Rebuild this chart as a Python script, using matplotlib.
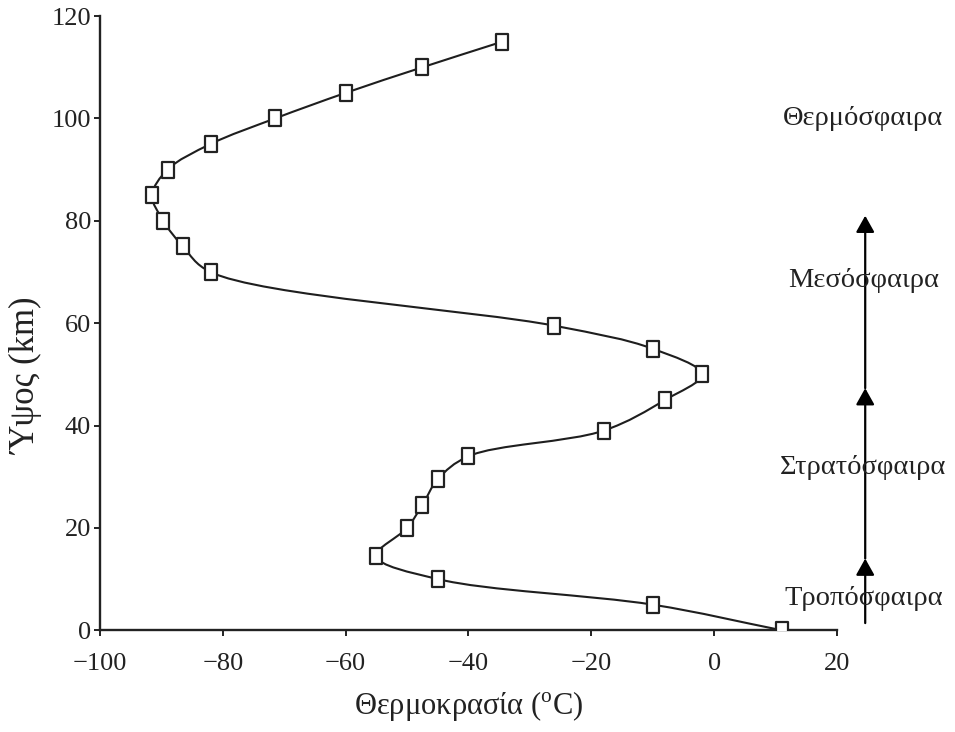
import numpy as np
import matplotlib
matplotlib.use('Agg')
import matplotlib.pyplot as plt
from matplotlib.path import Path
from matplotlib.patches import PathPatch

plt.rcParams['font.family'] = ['Liberation Serif', 'DejaVu Serif']
plt.rcParams['mathtext.fontset'] = 'custom'
plt.rcParams['mathtext.rm'] = 'Liberation Serif'

# temperature (C) vs altitude (km)
temperature = [-34.5, -47.5, -60, -71.5, -82, -89, -91.5, -89.7, -86.5, -82,
               -26, -10, -2, -8, -18, -40, -45, -47.5, -50, -55,
               -45, -10, 11]
altitude = [115, 110, 105, 100, 95, 90, 85, 80, 75, 70,
            59.5, 55, 50, 45, 39, 34, 29.5, 24.5, 20, 14.5,
            10, 5, 0]

layer_names = ['Θερμόσφαιρα', 'Μεσόσφαιρα', 'Στρατόσφαιρα', 'Τροπόσφαιρα']
layer_label_y = [100, 68.4, 31.8, 6.2]
arrow_heads = [1.4, 14, 47.3, 81]   # bottom of arrow, then arrowhead tips
arrow_x = 24.6

xticks = [-100, -80, -60, -40, -20, 0, 20]
yticks = [0, 20, 40, 60, 80, 100, 120]


def smooth_path(ax, xs, ys):
    # centripetal catmull-rom through the points, drawn as bezier segments
    pts = np.column_stack([xs, ys]).astype(float)
    disp = ax.transData.transform(pts)
    n = len(pts)
    seg = np.sqrt(np.linalg.norm(np.diff(disp, axis=0), axis=1))
    seg = np.maximum(seg, 1e-6)

    def tangent(i):
        if i == 0:
            return (pts[1] - pts[0]) / seg[0]
        if i == n - 1:
            return (pts[-1] - pts[-2]) / seg[-1]
        d0, d1 = seg[i - 1], seg[i]
        return ((pts[i] - pts[i - 1]) / d0
                - (pts[i + 1] - pts[i - 1]) / (d0 + d1)
                + (pts[i + 1] - pts[i]) / d1)

    verts = [pts[0]]
    codes = [Path.MOVETO]
    for i in range(n - 1):
        dt = seg[i]
        c1 = pts[i] + tangent(i) * dt / 3.0
        c2 = pts[i + 1] - tangent(i + 1) * dt / 3.0
        verts += [c1, c2, pts[i + 1]]
        codes += [Path.CURVE4] * 3
    return Path(verts, codes)


# open marker a bit taller than wide, like the scanned figure
tall_square = Path([(-0.39, -0.5), (0.39, -0.5), (0.39, 0.5), (-0.39, 0.5), (-0.39, -0.5)],
                   [Path.MOVETO, Path.LINETO, Path.LINETO, Path.LINETO, Path.CLOSEPOLY])

fig = plt.figure(figsize=(9.55, 7.32), dpi=100)
ax = fig.add_axes([0.1047, 0.139, 0.7717, 0.839])
ax.set_xlim(-100, 20)
ax.set_ylim(0, 120)

ax.add_patch(PathPatch(smooth_path(ax, temperature, altitude), facecolor='none',
                       edgecolor='#1e1e1e', lw=1.5, zorder=2))
ax.plot(temperature, altitude, linestyle='none', marker=tall_square, markersize=11,
        markerfacecolor='white', markeredgecolor='#222222', markeredgewidth=1.6,
        zorder=3)

ax.set_xticks(xticks)
ax.set_yticks(yticks)
ax.set_xticklabels([f'{v}'.replace('-', '\u2212') for v in xticks])

for s in ['top', 'right']:
    ax.spines[s].set_visible(False)
for s in ['left', 'bottom']:
    ax.spines[s].set_linewidth(1.7)
    ax.spines[s].set_color('#222222')
ax.tick_params(direction='out', length=4.5, width=1.4, color='#222222',
               labelsize=19, labelcolor='#222222')
ax.tick_params(axis='y', pad=2)
ax.tick_params(axis='x', pad=12)

ax.set_xlabel('Θερμοκρασία ($^{\\rm o}$C)', fontsize=22, color='#222222')
ax.xaxis.set_label_coords(0.50, -0.095)
ax.set_ylabel('Ύψος (km)', fontsize=25, color='#222222', va='center')
ax.yaxis.set_label_coords(-0.099, 0.414)

for lo, hi in zip(arrow_heads[:-1], arrow_heads[1:]):
    ax.annotate('', xy=(arrow_x, hi), xytext=(arrow_x, lo),
                annotation_clip=False,
                arrowprops=dict(arrowstyle='-|>,head_length=0.5,head_width=0.28',
                                mutation_scale=20, color='black', lw=1.6,
                                shrinkA=0, shrinkB=0))

for name, y in zip(layer_names, layer_label_y):
    ax.text(arrow_x - 0.3, y, name, ha='center', va='center', fontsize=20.5,
            color='#222222', clip_on=False)

fig.savefig('out.png', dpi=100)
